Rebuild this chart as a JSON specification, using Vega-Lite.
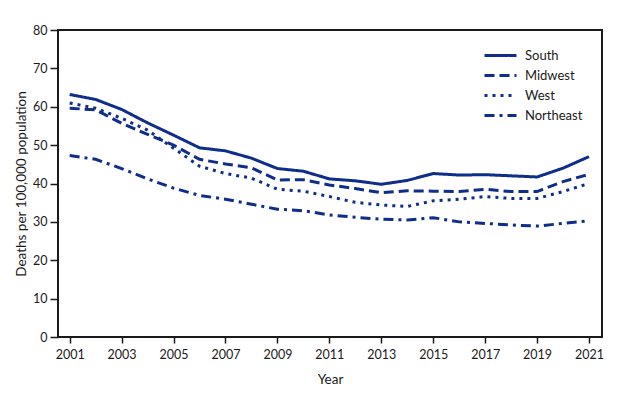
{
  "$schema": "https://vega.github.io/schema/vega-lite/v6.json",
  "width": 544,
  "height": 307,
  "autosize": {"type": "none"},
  "padding": {"left": 58, "top": 30, "right": 32, "bottom": 57},
  "background": "white",
  "config": {
    "view": {"stroke": "#1a1a1a", "strokeWidth": 2},
    "font": "Lato",
    "axis": {"grid": false, "domain": false, "tickColor": "#1a1a1a", "tickWidth": 1.5, "labelColor": "#1a1a1a", "titleColor": "#1a1a1a", "labelFontSize": 12.5, "titleFontSize": 13.5, "titleFontWeight": "normal", "labelFont": "Lato", "titleFont": "Lato"}
  },
  "data": {"values": [
    {"Year": 2001, "Region": "South", "Rate": 63.2},
    {"Year": 2002, "Region": "South", "Rate": 61.9},
    {"Year": 2003, "Region": "South", "Rate": 59.3},
    {"Year": 2004, "Region": "South", "Rate": 55.8},
    {"Year": 2005, "Region": "South", "Rate": 52.6},
    {"Year": 2006, "Region": "South", "Rate": 49.3},
    {"Year": 2007, "Region": "South", "Rate": 48.5},
    {"Year": 2008, "Region": "South", "Rate": 46.6},
    {"Year": 2009, "Region": "South", "Rate": 43.9},
    {"Year": 2010, "Region": "South", "Rate": 43.2},
    {"Year": 2011, "Region": "South", "Rate": 41.2},
    {"Year": 2012, "Region": "South", "Rate": 40.7},
    {"Year": 2013, "Region": "South", "Rate": 39.8},
    {"Year": 2014, "Region": "South", "Rate": 40.8},
    {"Year": 2015, "Region": "South", "Rate": 42.6},
    {"Year": 2016, "Region": "South", "Rate": 42.2},
    {"Year": 2017, "Region": "South", "Rate": 42.3},
    {"Year": 2018, "Region": "South", "Rate": 42.0},
    {"Year": 2019, "Region": "South", "Rate": 41.7},
    {"Year": 2020, "Region": "South", "Rate": 44.0},
    {"Year": 2021, "Region": "South", "Rate": 47.0},
    {"Year": 2001, "Region": "Midwest", "Rate": 59.6},
    {"Year": 2002, "Region": "Midwest", "Rate": 59.2},
    {"Year": 2003, "Region": "Midwest", "Rate": 55.7},
    {"Year": 2004, "Region": "Midwest", "Rate": 52.8},
    {"Year": 2005, "Region": "Midwest", "Rate": 50.0},
    {"Year": 2006, "Region": "Midwest", "Rate": 46.3},
    {"Year": 2007, "Region": "Midwest", "Rate": 45.1},
    {"Year": 2008, "Region": "Midwest", "Rate": 44.1},
    {"Year": 2009, "Region": "Midwest", "Rate": 40.9},
    {"Year": 2010, "Region": "Midwest", "Rate": 41.0},
    {"Year": 2011, "Region": "Midwest", "Rate": 39.6},
    {"Year": 2012, "Region": "Midwest", "Rate": 38.7},
    {"Year": 2013, "Region": "Midwest", "Rate": 37.6},
    {"Year": 2014, "Region": "Midwest", "Rate": 38.1},
    {"Year": 2015, "Region": "Midwest", "Rate": 38.0},
    {"Year": 2016, "Region": "Midwest", "Rate": 37.9},
    {"Year": 2017, "Region": "Midwest", "Rate": 38.5},
    {"Year": 2018, "Region": "Midwest", "Rate": 37.9},
    {"Year": 2019, "Region": "Midwest", "Rate": 37.9},
    {"Year": 2020, "Region": "Midwest", "Rate": 40.5},
    {"Year": 2021, "Region": "Midwest", "Rate": 42.4},
    {"Year": 2001, "Region": "West", "Rate": 61.0},
    {"Year": 2002, "Region": "West", "Rate": 59.6},
    {"Year": 2003, "Region": "West", "Rate": 57.0},
    {"Year": 2004, "Region": "West", "Rate": 53.9},
    {"Year": 2005, "Region": "West", "Rate": 49.2},
    {"Year": 2006, "Region": "West", "Rate": 44.5},
    {"Year": 2007, "Region": "West", "Rate": 42.6},
    {"Year": 2008, "Region": "West", "Rate": 41.4},
    {"Year": 2009, "Region": "West", "Rate": 38.5},
    {"Year": 2010, "Region": "West", "Rate": 38.0},
    {"Year": 2011, "Region": "West", "Rate": 36.6},
    {"Year": 2012, "Region": "West", "Rate": 35.1},
    {"Year": 2013, "Region": "West", "Rate": 34.4},
    {"Year": 2014, "Region": "West", "Rate": 34.0},
    {"Year": 2015, "Region": "West", "Rate": 35.5},
    {"Year": 2016, "Region": "West", "Rate": 35.9},
    {"Year": 2017, "Region": "West", "Rate": 36.6},
    {"Year": 2018, "Region": "West", "Rate": 36.1},
    {"Year": 2019, "Region": "West", "Rate": 36.1},
    {"Year": 2020, "Region": "West", "Rate": 37.9},
    {"Year": 2021, "Region": "West", "Rate": 40.0},
    {"Year": 2001, "Region": "Northeast", "Rate": 47.3},
    {"Year": 2002, "Region": "Northeast", "Rate": 46.3},
    {"Year": 2003, "Region": "Northeast", "Rate": 43.9},
    {"Year": 2004, "Region": "Northeast", "Rate": 41.2},
    {"Year": 2005, "Region": "Northeast", "Rate": 38.8},
    {"Year": 2006, "Region": "Northeast", "Rate": 36.9},
    {"Year": 2007, "Region": "Northeast", "Rate": 35.9},
    {"Year": 2008, "Region": "Northeast", "Rate": 34.6},
    {"Year": 2009, "Region": "Northeast", "Rate": 33.3},
    {"Year": 2010, "Region": "Northeast", "Rate": 32.9},
    {"Year": 2011, "Region": "Northeast", "Rate": 31.8},
    {"Year": 2012, "Region": "Northeast", "Rate": 31.2},
    {"Year": 2013, "Region": "Northeast", "Rate": 30.7},
    {"Year": 2014, "Region": "Northeast", "Rate": 30.5},
    {"Year": 2015, "Region": "Northeast", "Rate": 31.1},
    {"Year": 2016, "Region": "Northeast", "Rate": 30.0},
    {"Year": 2017, "Region": "Northeast", "Rate": 29.6},
    {"Year": 2018, "Region": "Northeast", "Rate": 29.2},
    {"Year": 2019, "Region": "Northeast", "Rate": 28.9},
    {"Year": 2020, "Region": "Northeast", "Rate": 29.6},
    {"Year": 2021, "Region": "Northeast", "Rate": 30.3}
  ]},
  "mark": {"type": "line", "color": "#0f2d8a", "strokeWidth": 3, "strokeCap": "butt"},
  "encoding": {
    "x": {
      "field": "Year", "type": "quantitative",
      "scale": {"domain": [2000.55, 2021.5], "nice": false, "zero": false},
      "axis": {"values": [2001, 2003, 2005, 2007, 2009, 2011, 2013, 2015, 2017, 2019, 2021], "format": "d", "tickSize": 6, "labelPadding": 5, "title": "Year", "titlePadding": 12}
    },
    "y": {
      "field": "Rate", "type": "quantitative",
      "scale": {"domain": [0, 80], "nice": false},
      "axis": {"values": [0, 10, 20, 30, 40, 50, 60, 70, 80], "tickSize": 8, "labelPadding": 3, "title": "Deaths per 100,000 population", "titlePadding": 4}
    },
    "strokeDash": {
      "field": "Region", "type": "nominal",
      "sort": ["South", "Midwest", "West", "Northeast"],
      "scale": {"domain": ["South", "Midwest", "West", "Northeast"], "range": [[1, 0], [10, 5], [3, 5], [10, 5, 3, 5]]},
      "legend": {"title": null, "orient": "none", "legendX": 433, "legendY": 16, "symbolType": "M-2,0H2", "symbolSize": 256, "symbolStrokeWidth": 3, "symbolStrokeColor": "#0f2d8a", "symbolFillColor": "transparent", "labelFontSize": 13, "labelColor": "#1a1a1a", "rowPadding": 3, "labelOffset": 15, "padding": 0}
    }
  }
}
